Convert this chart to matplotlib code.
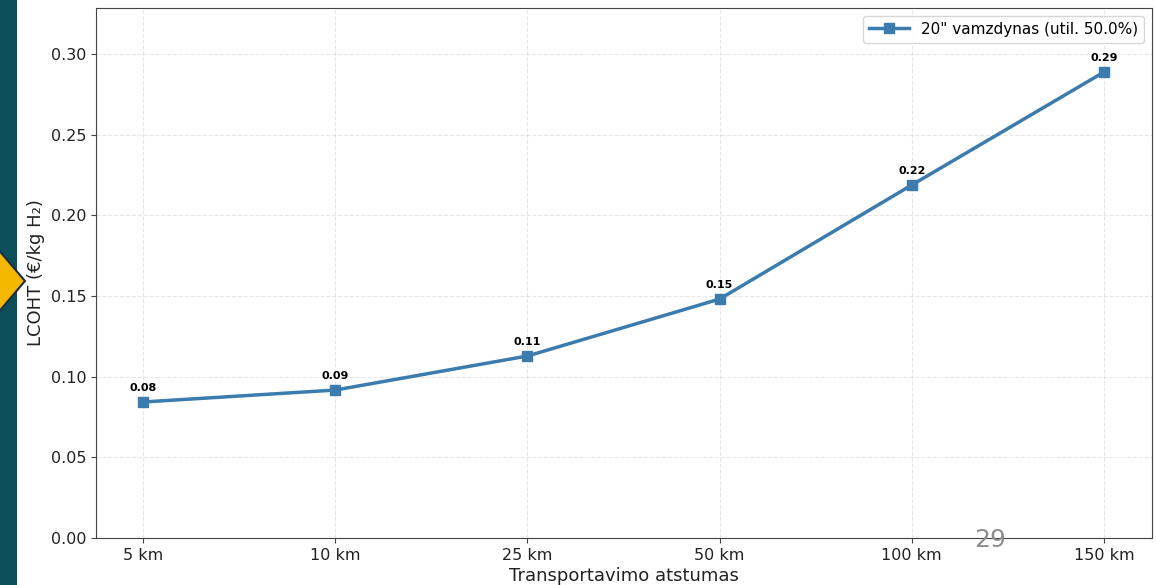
import matplotlib
matplotlib.use("Agg")
import matplotlib.pyplot as plt
from matplotlib.patches import Polygon, Rectangle

categories = ["5 km", "10 km", "25 km", "50 km", "100 km", "150 km"]
lcoht = [0.0843, 0.0917, 0.1128, 0.1481, 0.2188, 0.2888]
series_label = '20" vamzdynas (util. 50.0%)'

fig = plt.figure(figsize=(11.56, 5.85), dpi=100)
ax = fig.add_axes([96/1156, 1-538/585, (1152-96)/1156, (538-8)/585])

x = list(range(len(categories)))
color = "#3b7bad"
ax.plot(x, lcoht, marker="s", markersize=7.5, linewidth=2.5, color=color, label=series_label)
for xi, v in zip(x, lcoht):
    ax.annotate(f"{v:.2f}", (xi, v), textcoords="offset points", xytext=(0, 8),
                ha="center", fontsize=8, fontweight="bold")

ax.set_xticks(x)
ax.set_xticklabels(categories, fontsize=11.5, color="#222222")
ax.set_xlim(-0.245, 5.25)
ax.set_ylim(0, 0.3285)
yt = [0, 0.05, 0.10, 0.15, 0.20, 0.25, 0.30]
ax.set_yticks(yt)
ax.set_yticklabels([f"{t:.2f}" for t in yt], fontsize=11.5, color="#222222")
for s in ax.spines.values():
    s.set_color("#444444")
ax.tick_params(color="#444444")
ax.grid(True, linestyle="--", alpha=0.3)
ax.set_xlabel("Transportavimo atstumas", fontsize=13, labelpad=3, color="#222222")
ax.set_ylabel("LCOHT (€/kg H₂)", fontsize=13, color="#222222")
ax.legend(loc="upper right", fontsize=11, handlelength=2.6)

# slide decorations
fig.patches.append(Rectangle((0, 0), 17/1156, 1, transform=fig.transFigure,
                             facecolor="#0b4f58", edgecolor="none", zorder=5))
diamond = [(-32/1156, 1-281/585), (-3/1156, 1-248/585), (25/1156, 1-281/585), (-3/1156, 1-314/585)]
fig.patches.append(Polygon(diamond, closed=True, transform=fig.transFigure,
                           facecolor="#f5b800", edgecolor="#1d2b4a", linewidth=1.5, zorder=6))
fig.text(990/1156, 1-540/585, "29", fontsize=18, color="#8c8c8c", ha="center", va="center")

fig.savefig("out.png", dpi=100)
